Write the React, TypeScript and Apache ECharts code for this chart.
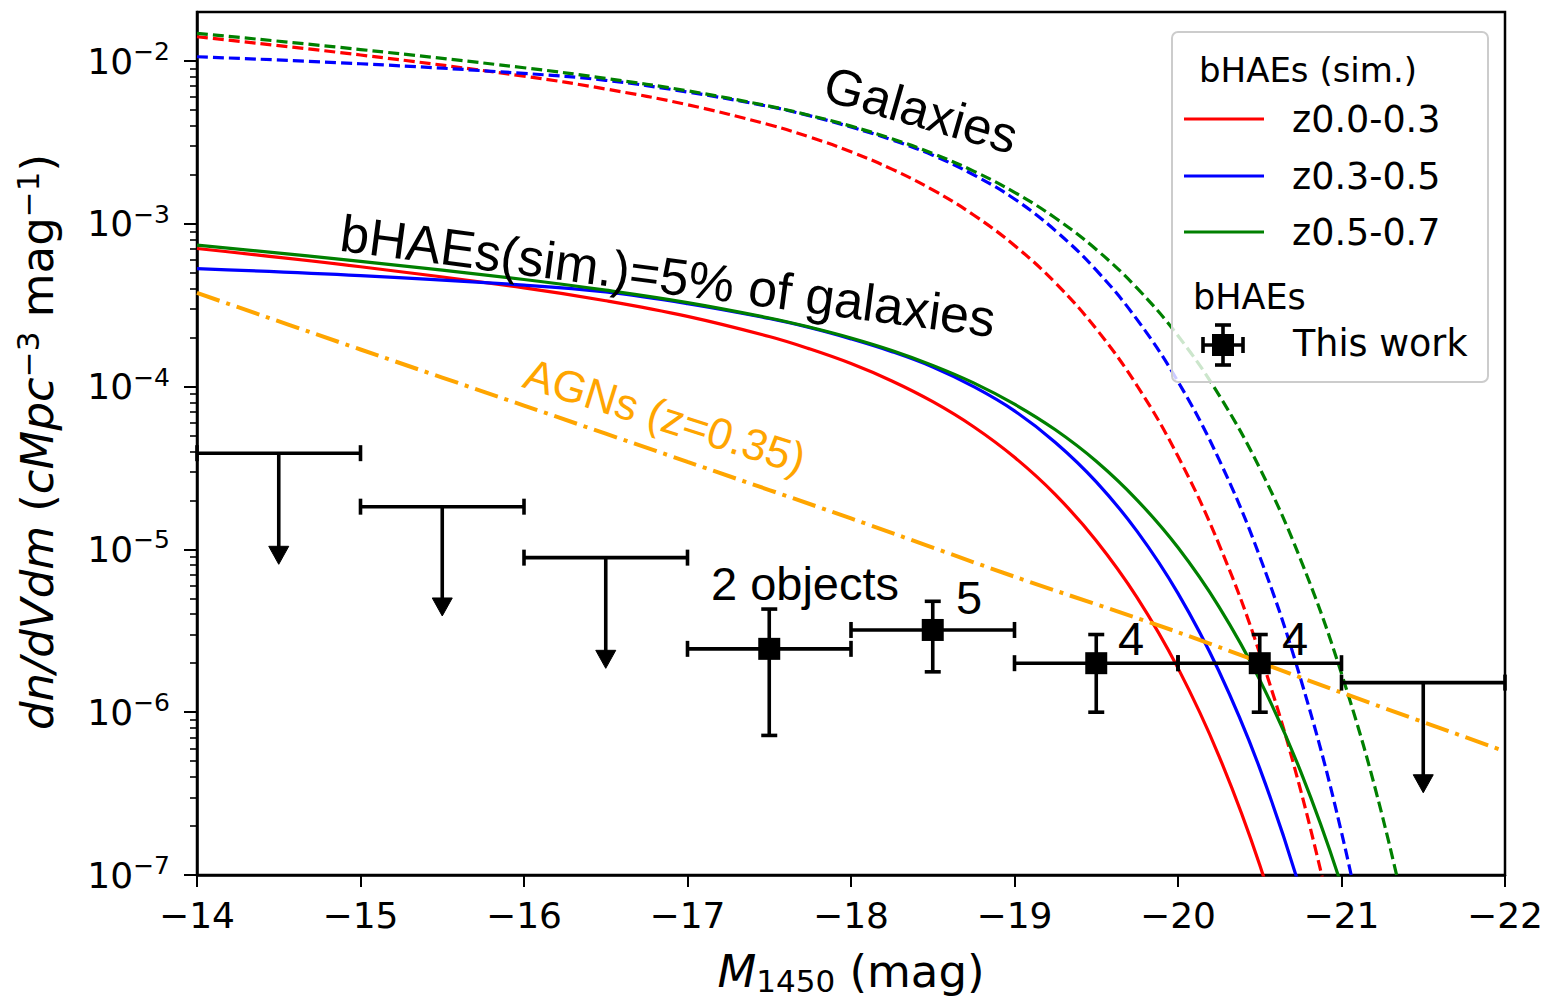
import React, { useEffect, useRef } from "react";
import * as echarts from "echarts";

// ---------- data ----------
const M_STEPS = [-14, -15, -16, -16.5, -17, -17.5, -17.75, -18, -18.25, -18.5, -18.75, -19, -19.25, -19.5, -19.75, -20, -20.25, -20.5, -20.75, -21, -21.25, -21.5];

const SERIES_NAMES = ["z0.0-0.3", "z0.3-0.5", "z0.5-0.7"];
const SERIES_COLORS = ["#ff0000", "#0000ff", "#008000"];

// Galaxies (dashed)
const GAL_Z00_03 = [1.409e-2, 1.089e-2, 8.07e-3, 6.73e-3, 5.39e-3, 4.06e-3, 3.405e-3, 2.77e-3, 2.167e-3, 1.616e-3, 1.133e-3, 7.36e-4, 4.34e-4, 2.262e-4, 1.012e-4, 3.73e-5, 1.079e-5, 2.295e-6, 3.32e-7, 2.96e-8];
const GAL_Z03_05 = [1.062e-2, 9.62e-3, 8.39e-3, 7.61e-3, 6.45e-3, 5.25e-3, 4.6e-3, 3.93e-3, 3.28e-3, 2.64e-3, 2.0e-3, 1.421e-3, 9.08e-4, 5.19e-4, 2.577e-4, 1.074e-4, 3.583e-5, 9.04e-6, 1.604e-6, 1.827e-7, 1.19e-8];
const GAL_Z05_07 = [1.48e-2, 1.176e-2, 9.09e-3, 7.82e-3, 6.56e-3, 5.28e-3, 4.63e-3, 3.98e-3, 3.333e-3, 2.705e-3, 2.108e-3, 1.561e-3, 1.085e-3, 6.95e-4, 4.025e-4, 2.051e-4, 8.9e-5, 3.154e-5, 8.66e-6, 1.726e-6, 2.297e-7, 1.837e-8];

// bHAEs (sim.) = 5% of galaxies (solid)
const BHAE_Z00_03 = [7.05e-4, 5.45e-4, 4.04e-4, 3.37e-4, 2.7e-4, 2.03e-4, 1.7e-4, 1.385e-4, 1.083e-4, 8.08e-5, 5.67e-5, 3.68e-5, 2.17e-5, 1.131e-5, 5.06e-6, 1.865e-6, 5.4e-7, 1.15e-7, 1.66e-8];
const BHAE_Z03_05 = [5.31e-4, 4.81e-4, 4.2e-4, 3.81e-4, 3.23e-4, 2.62e-4, 2.3e-4, 1.965e-4, 1.64e-4, 1.32e-4, 1.0e-4, 7.1e-5, 4.54e-5, 2.6e-5, 1.29e-5, 5.37e-6, 1.79e-6, 4.52e-7, 8.0e-8, 9.1e-9];
const BHAE_Z05_07 = [7.4e-4, 5.88e-4, 4.55e-4, 3.91e-4, 3.28e-4, 2.64e-4, 2.315e-4, 1.99e-4, 1.667e-4, 1.35e-4, 1.054e-4, 7.8e-5, 5.43e-5, 3.48e-5, 2.01e-5, 1.026e-5, 4.45e-6, 1.58e-6, 4.33e-7, 8.6e-8, 1.15e-8];

// AGNs (z=0.35)
const AGN_M = [-14, -15, -16, -17, -18, -19, -20, -21, -22];
const AGN_VAL = [3.76e-4, 1.69e-4, 7.65e-5, 3.45e-5, 1.55e-5, 6.8e-6, 3.1e-6, 1.32e-6, 5.75e-7];

// This work: detections
const PT_M = [-17.5, -18.5, -19.5, -20.5];
const PT_BIN_HALF = [0.5, 0.5, 0.5, 0.5];
const PT_VAL = [2.45e-6, 3.2e-6, 2.0e-6, 2.0e-6];
const PT_LO = [7.2e-7, 1.77e-6, 1.0e-6, 1.0e-6];
const PT_HI = [4.3e-6, 4.8e-6, 3.0e-6, 3.0e-6];
const PT_COUNTS = ["2 objects", "5", "4", "4"];

// This work: upper limits
const UL_M = [-14.5, -15.5, -16.5, -21.5];
const UL_BIN_HALF = [0.5, 0.5, 0.5, 0.5];
const UL_VAL = [3.9e-5, 1.83e-5, 8.9e-6, 1.52e-6];
const UL_ARROW_TO = [8.1e-6, 3.9e-6, 1.86e-6, 3.2e-7];

// axes
const X_MIN = -22;
const X_MAX = -14;
const Y_MIN = 1e-7;
const Y_MAX = 2e-2;
const Y_DECADES = [-7, -6, -5, -4, -3, -2];
const Y_MINOR_MULT = [2, 3, 4, 5, 6, 7, 8, 9];

// ---------- helpers ----------
const pairs = (ms: number[], vs: number[]) => vs.map((v, i) => [ms[i], v]);
const MINUS = "\u2212";

const ARIAL = "Liberation Sans, Arial, sans-serif";
const DEJAVU = "DejaVu Sans, sans-serif";

function buildOption() {
  const yMajor = Y_DECADES.map((e) => Math.pow(10, e));
  const yMinor: number[] = [];
  Y_DECADES.forEach((e) => {
    Y_MINOR_MULT.forEach((m) => {
      const v = Number((m * Math.pow(10, e)).toPrecision(3));
      if (v < Y_MAX) yMinor.push(v);
    });
  });

  const galArr = [GAL_Z00_03, GAL_Z03_05, GAL_Z05_07];
  const bhaeArr = [BHAE_Z00_03, BHAE_Z03_05, BHAE_Z05_07];

  const series: any[] = [];
  galArr.forEach((arr, i) => {
    series.push({
      name: "gal " + SERIES_NAMES[i],
      type: "line",
      data: pairs(M_STEPS, arr),
      showSymbol: false,
      symbol: "none",
      smooth: 0.4,
      lineStyle: { color: SERIES_COLORS[i], width: 3.2, type: [11, 5] },
      z: 3,
      clip: true,
    });
  });
  bhaeArr.forEach((arr, i) => {
    series.push({
      name: SERIES_NAMES[i],
      type: "line",
      data: pairs(M_STEPS, arr),
      showSymbol: false,
      symbol: "none",
      smooth: 0.4,
      lineStyle: { color: SERIES_COLORS[i], width: 3.2 },
      z: 3,
      clip: true,
    });
  });
  series.push({
    name: "AGNs",
    type: "line",
    data: pairs(AGN_M, AGN_VAL),
    showSymbol: false,
    symbol: "none",
    smooth: 0.3,
    lineStyle: { color: "#ffa500", width: 4, type: [24, 7, 4, 7] },
    z: 3,
    clip: true,
  });

  const errData: number[][] = [];
  PT_M.forEach((m, i) => {
    errData.push([m, PT_VAL[i], m + PT_BIN_HALF[i], m - PT_BIN_HALF[i], PT_LO[i], PT_HI[i], 0]);
  });
  UL_M.forEach((m, i) => {
    errData.push([m, UL_VAL[i], m + UL_BIN_HALF[i], m - UL_BIN_HALF[i], UL_ARROW_TO[i], UL_VAL[i], 1]);
  });

  series.push({
    name: "This work",
    type: "custom",
    data: errData,
    encode: { x: 0, y: 1 },
    clip: false,
    z: 10,
    renderItem: (params: any, api: any) => {
      const m = api.value(0);
      const v = api.value(1);
      const xa = api.value(2);
      const xb = api.value(3);
      const ylo = api.value(4);
      const yhi = api.value(5);
      const kind = api.value(6);
      const c = api.coord([m, v]);
      const a = api.coord([xa, v]);
      const b = api.coord([xb, v]);
      const st = { stroke: "#000", lineWidth: 3.6 };
      const cap = 8;
      const kids: any[] = [
        { type: "line", shape: { x1: a[0], y1: c[1], x2: b[0], y2: c[1] }, style: st },
        { type: "line", shape: { x1: a[0], y1: c[1] - cap, x2: a[0], y2: c[1] + cap }, style: st },
        { type: "line", shape: { x1: b[0], y1: c[1] - cap, x2: b[0], y2: c[1] + cap }, style: st },
      ];
      if (kind === 0) {
        const lo = api.coord([m, ylo]);
        const hi = api.coord([m, yhi]);
        kids.push({ type: "line", shape: { x1: c[0], y1: hi[1], x2: c[0], y2: lo[1] }, style: st });
        kids.push({ type: "line", shape: { x1: c[0] - cap, y1: hi[1], x2: c[0] + cap, y2: hi[1] }, style: st });
        kids.push({ type: "line", shape: { x1: c[0] - cap, y1: lo[1], x2: c[0] + cap, y2: lo[1] }, style: st });
        kids.push({ type: "rect", shape: { x: c[0] - 11, y: c[1] - 11, width: 22, height: 22 }, style: { fill: "#000" } });
      } else {
        const tip = api.coord([m, ylo]);
        const head = 18;
        kids.push({ type: "line", shape: { x1: c[0], y1: c[1], x2: c[0], y2: tip[1] - head + 2 }, style: st });
        kids.push({
          type: "polygon",
          shape: { points: [[c[0] - 10, tip[1] - head], [c[0] + 10, tip[1] - head], [c[0], tip[1]]] },
          style: { fill: "#000", stroke: "#000", lineWidth: 1, lineJoin: "round" },
        });
      }
      return { type: "group", children: kids };
    },
  });

  // ---------- graphic: titles, annotations, legend ----------
  const txt = (x: number, y: number, text: string, size: number, opts: any = {}) => ({
    type: "text",
    x,
    y,
    rotation: opts.rotation || 0,
    z: opts.z || 90,
    style: {
      text,
      fontSize: size,
      fontFamily: opts.family || ARIAL,
      fill: opts.color || "#000",
      align: opts.align || "center",
      textAlign: opts.align || "center",
      verticalAlign: "middle",
      textVerticalAlign: "middle",
      rich: opts.rich,
    },
  });

  const titleRich = {
    i: { fontSize: 45, fontFamily: DEJAVU, fontStyle: "italic", verticalAlign: "middle", fill: "#000" },
    n: { fontSize: 45, fontFamily: DEJAVU, verticalAlign: "middle", fill: "#000" },
    s: { fontSize: 31, fontFamily: DEJAVU, verticalAlign: "bottom", padding: [0, 0, 18, 0], fill: "#000" },
    b: { fontSize: 31, fontFamily: DEJAVU, verticalAlign: "top", padding: [20, 0, 0, 0], fill: "#000" },
  };

  const graphic: any[] = [
    txt(37, 442, "{i|dn/dVdm}{n| (}{i|cMpc}{s|" + MINUS + "3}{n| mag}{s|" + MINUS + "1}{n|)}", 45, {
      rotation: Math.PI / 2,
      family: DEJAVU,
      rich: titleRich,
    }),
    txt(851, 971, "{i|M}{b|1450}{n| (mag)}", 45, { family: DEJAVU, rich: titleRich }),
    txt(921, 110, "Galaxies", 51, { rotation: (-16 * Math.PI) / 180 }),
    txt(668, 276, "bHAEs(sim.)=5% of galaxies", 52, { rotation: (-7.5 * Math.PI) / 180 }),
    txt(665, 416, "AGNs (z=0.35)", 44, { rotation: (-17.5 * Math.PI) / 180, color: "#ffa500" }),
    txt(805, 583, PT_COUNTS[0], 47),
    txt(969, 597, PT_COUNTS[1], 47),
    txt(1131, 638, PT_COUNTS[2], 47),
    txt(1295, 638, PT_COUNTS[3], 47),
  ];

  // legend
  const LZ = 100;
  graphic.push({
    type: "rect",
    z: LZ,
    shape: { x: 1172, y: 32, width: 316, height: 350, r: 6 },
    style: { fill: "rgba(255,255,255,0.8)", stroke: "#cccccc", lineWidth: 2 },
  });
  graphic.push(txt(1308, 70, "bHAEs (sim.)", 34, { family: DEJAVU, z: LZ + 1 }));
  const rowY = [119, 176, 232];
  SERIES_NAMES.forEach((name, i) => {
    graphic.push({
      type: "line",
      z: LZ + 1,
      shape: { x1: 1184, y1: rowY[i], x2: 1264, y2: rowY[i] },
      style: { stroke: SERIES_COLORS[i], lineWidth: 3.2 },
    });
    graphic.push(txt(1292, rowY[i], name, 36.5, { family: DEJAVU, align: "left", z: LZ + 1 }));
  });
  graphic.push(txt(1193, 297, "bHAEs", 35, { family: DEJAVU, align: "left", z: LZ + 1 }));
  const mx = 1223;
  const my = 345;
  const ls = { stroke: "#000", lineWidth: 3.6 };
  graphic.push({ type: "line", z: LZ + 1, shape: { x1: mx - 20, y1: my, x2: mx + 20, y2: my }, style: ls });
  graphic.push({ type: "line", z: LZ + 1, shape: { x1: mx, y1: my - 20, x2: mx, y2: my + 20 }, style: ls });
  graphic.push({ type: "line", z: LZ + 1, shape: { x1: mx - 20, y1: my - 8, x2: mx - 20, y2: my + 8 }, style: ls });
  graphic.push({ type: "line", z: LZ + 1, shape: { x1: mx + 20, y1: my - 8, x2: mx + 20, y2: my + 8 }, style: ls });
  graphic.push({ type: "line", z: LZ + 1, shape: { x1: mx - 8, y1: my - 20, x2: mx + 8, y2: my - 20 }, style: ls });
  graphic.push({ type: "line", z: LZ + 1, shape: { x1: mx - 8, y1: my + 20, x2: mx + 8, y2: my + 20 }, style: ls });
  graphic.push({ type: "rect", z: LZ + 1, shape: { x: mx - 11, y: my - 11, width: 22, height: 22 }, style: { fill: "#000" } });
  graphic.push(txt(1293, 343, "This work", 36.5, { family: DEJAVU, align: "left", z: LZ + 1 }));

  return {
    animation: false,
    backgroundColor: "#ffffff",
    grid: {
      left: 197,
      top: 12,
      right: 42,
      bottom: 126,
      containLabel: false,
      outerBoundsMode: "none",
      show: true,
      borderColor: "#000",
      borderWidth: 2.5,
      backgroundColor: "transparent",
    },
    xAxis: {
      type: "value",
      min: X_MIN,
      max: X_MAX,
      interval: 1,
      inverse: true,
      axisLine: { show: true, onZero: false, lineStyle: { color: "#000", width: 2.5 } },
      axisTick: { show: true, inside: false, length: 12, lineStyle: { color: "#000", width: 2 } },
      axisLabel: {
        show: true,
        margin: 22,
        fontSize: 36,
        fontFamily: DEJAVU,
        color: "#000",
        formatter: (v: number) => (v < 0 ? MINUS + Math.abs(v) : String(v)),
      },
      splitLine: { show: false },
    },
    yAxis: [
      {
        type: "log",
        logBase: 10,
        min: Y_MIN,
        max: Y_MAX,
        axisLine: { show: true, onZero: false, lineStyle: { color: "#000", width: 2.5 } },
        axisTick: { show: true, inside: false, length: 13, lineStyle: { color: "#000", width: 2 }, customValues: yMajor },
        axisLabel: {
          show: true,
          margin: 27,
          color: "#000",
          fontSize: 36,
          fontFamily: DEJAVU,
          customValues: yMajor,
          formatter: (v: number) => {
            const l = Math.log10(v);
            const e = Math.round(l);
            if (Math.abs(l - e) > 1e-6) return "";
            return "{n|10}{sup|" + (e < 0 ? MINUS : "") + Math.abs(e) + "}";
          },
          rich: {
            n: { fontSize: 36, fontFamily: DEJAVU, color: "#000", verticalAlign: "middle" },
            sup: { fontSize: 25, fontFamily: DEJAVU, color: "#000", verticalAlign: "bottom", padding: [0, 0, 19, 0] },
          },
        },
        splitLine: { show: false },
        minorTick: { show: false },
      },
      {
        type: "log",
        logBase: 10,
        min: Y_MIN,
        max: Y_MAX,
        position: "left",
        offset: 0,
        axisLine: { show: false },
        axisTick: { show: true, inside: false, length: 7, lineStyle: { color: "#000", width: 1.6 }, customValues: yMinor },
        axisLabel: { show: false, customValues: [] },
        splitLine: { show: false },
      },
    ],
    series,
    graphic,
  };
}

export default function App() {
  const ref = useRef<HTMLDivElement>(null);
  useEffect(() => {
    if (!ref.current) return;
    const chart = echarts.init(ref.current, null, { renderer: "svg" });
    chart.setOption(buildOption() as any);
    return () => chart.dispose();
  }, []);
  return (
    <div
      ref={ref}
      style={{ position: "fixed", left: 0, top: 0, width: 1547, height: 1001, background: "#fff" }}
    />
  );
}
